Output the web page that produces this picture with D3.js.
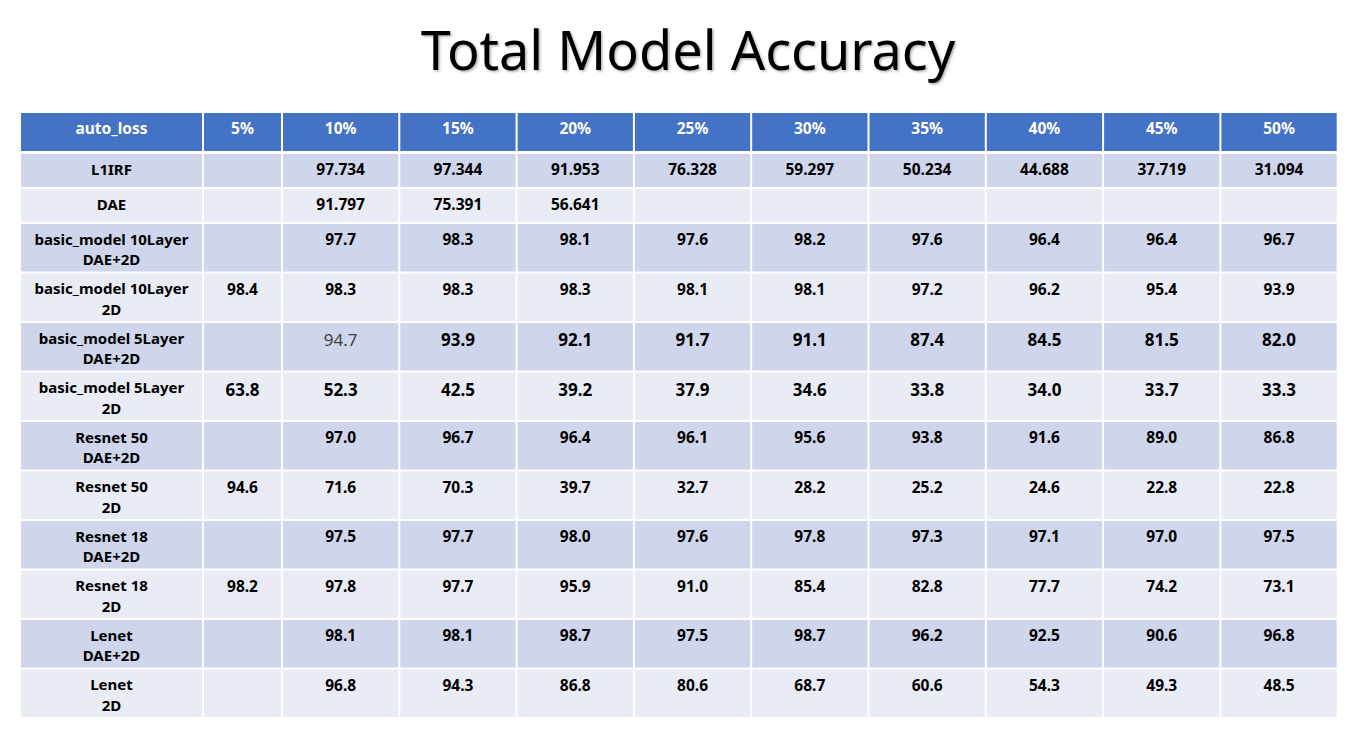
<!DOCTYPE html>
<html>
<head>
<meta charset="utf-8">
<script src="https://cdn.jsdelivr.net/npm/d3@7"></script>
<style>
  body { margin: 0; background: #fff; }
  svg { display: block; }
</style>
</head>
<body>
<div id="chart"></div>
<script>
// table content
const title = 'Total Model Accuracy';
const columns = ['auto_loss', '5%', '10%', '15%', '20%', '25%', '30%', '35%', '40%', '45%', '50%'];
const rowLabels = [
    ['L1IRF'],
    ['DAE'],
    ['basic_model 10Layer', 'DAE+2D'],
    ['basic_model 10Layer', '2D'],
    ['basic_model 5Layer', 'DAE+2D'],
    ['basic_model 5Layer', '2D'],
    ['Resnet 50', 'DAE+2D'],
    ['Resnet 50', '2D'],
    ['Resnet 18', 'DAE+2D'],
    ['Resnet 18', '2D'],
    ['Lenet', 'DAE+2D'],
    ['Lenet', '2D']
];
const decimals = [3, 3, 1, 1, 1, 1, 1, 1, 1, 1, 1, 1];
const l1irf = [null, 97.734, 97.344, 91.953, 76.328, 59.297, 50.234, 44.688, 37.719, 31.094];
const dae = [null, 91.797, 75.391, 56.641, null, null, null, null, null, null];
const basic10Dae = [null, 97.7, 98.3, 98.1, 97.6, 98.2, 97.6, 96.4, 96.4, 96.7];
const basic10_2d = [98.4, 98.3, 98.3, 98.3, 98.1, 98.1, 97.2, 96.2, 95.4, 93.9];
const basic5Dae = [null, 94.7, 93.9, 92.1, 91.7, 91.1, 87.4, 84.5, 81.5, 82.0];
const basic5_2d = [63.8, 52.3, 42.5, 39.2, 37.9, 34.6, 33.8, 34.0, 33.7, 33.3];
const resnet50Dae = [null, 97.0, 96.7, 96.4, 96.1, 95.6, 93.8, 91.6, 89.0, 86.8];
const resnet50_2d = [94.6, 71.6, 70.3, 39.7, 32.7, 28.2, 25.2, 24.6, 22.8, 22.8];
const resnet18Dae = [null, 97.5, 97.7, 98.0, 97.6, 97.8, 97.3, 97.1, 97.0, 97.5];
const resnet18_2d = [98.2, 97.8, 97.7, 95.9, 91.0, 85.4, 82.8, 77.7, 74.2, 73.1];
const lenetDae = [null, 98.1, 98.1, 98.7, 97.5, 98.7, 96.2, 92.5, 90.6, 96.8];
const lenet2d = [null, 96.8, 94.3, 86.8, 80.6, 68.7, 60.6, 54.3, 49.3, 48.5];
const values = [l1irf, dae, basic10Dae, basic10_2d, basic5Dae, basic5_2d,
    resnet50Dae, resnet50_2d, resnet18Dae, resnet18_2d, lenetDae, lenet2d];

const width = 1361, height = 733;
const font = '"Noto Sans", "Open Sans", sans-serif';

const svg = d3.select('#chart').append('svg')
    .attr('width', width)
    .attr('height', height);

// soft shadow under the title, like the slide
const defs = svg.append('defs');
const shadow = defs.append('filter').attr('id', 'shadow')
    .attr('x', '-5%').attr('y', '-20%').attr('width', '110%').attr('height', '140%');
shadow.append('feDropShadow')
    .attr('dx', 1.5).attr('dy', 1.5).attr('stdDeviation', 1.2)
    .attr('flood-color', '#000').attr('flood-opacity', 0.3);

svg.append('text')
    .attr('x', 688)
    .attr('y', 70)
    .attr('text-anchor', 'middle')
    .attr('font-family', font)
    .attr('font-size', 54)
    .attr('fill', '#000')
    .attr('filter', 'url(#shadow)')
    .text(title);

// column widths in relative units (label col wide, 5% col narrow)
const colUnits = columns.map((c, i) => i === 0 ? 183 : i === 1 ? 79 : 117.3);
const colStart = d3.cumsum([0].concat(colUnits));
const x = d3.scaleLinear()
    .domain([0, d3.sum(colUnits)])
    .range([21, 21 + d3.sum(colUnits)]);

// row pitch: one- or two-line rows
const rowPitch = rowLabels.map(l => l.length === 1 ? 35 : 49.5);
const rowStart = d3.cumsum([0].concat(rowPitch));
const y = d3.scaleLinear()
    .domain([0, d3.sum(rowPitch)])
    .range([154, 154 + d3.sum(rowPitch)]);

const gap = 2;

// header
const head = svg.append('g');
head.selectAll('rect')
    .data(columns)
    .enter()
    .append('rect')
    .attr('x', (d, i) => x(colStart[i]))
    .attr('y', 113)
    .attr('width', (d, i) => colUnits[i] - gap)
    .attr('height', 38)
    .attr('fill', '#4472C4');
head.selectAll('text')
    .data(columns)
    .enter()
    .append('text')
    .attr('x', (d, i) => x(colStart[i] + colUnits[i] / 2) - 1)
    .attr('y', 134)
    .attr('text-anchor', 'middle')
    .attr('font-family', font)
    .attr('font-weight', 700)
    .attr('font-size', 15.5)
    .attr('fill', '#fff')
    .text(d => d);

// body rows
const rows = svg.append('g')
    .selectAll('g')
    .data(rowLabels.map((label, r) => ({ label, r, vals: values[r] })))
    .enter()
    .append('g')
    .attr('transform', d => `translate(0,${y(rowStart[d.r])})`);

rows.selectAll('rect')
    .data(d => columns.map((c, i) => ({ i, r: d.r })))
    .enter()
    .append('rect')
    .attr('x', d => x(colStart[d.i]))
    .attr('y', 0)
    .attr('width', d => colUnits[d.i] - gap)
    .attr('height', d => rowPitch[d.r] - gap)
    .attr('fill', d => d.r % 2 === 0 ? '#CFD5EA' : '#E9EBF5');

// label column, one text per line
rows.selectAll('text.label')
    .data(d => d.label)
    .enter()
    .append('text')
    .attr('class', 'label')
    .attr('x', x(colUnits[0] / 2) - 1)
    .attr('y', (d, i) => 20.5 + i * 20.5)
    .attr('text-anchor', 'middle')
    .attr('font-family', font)
    .attr('font-weight', 700)
    .attr('font-size', 15)
    .attr('fill', '#000')
    .text(d => d);

// values; the 5Layer rows were typed larger on the slide
const bigRows = [4, 5];
rows.selectAll('text.val')
    .data(d => d.vals.map((v, j) => ({ v, j, r: d.r })).filter(d => d.v !== null))
    .enter()
    .append('text')
    .attr('class', 'val')
    .attr('x', d => x(colStart[d.j + 1] + colUnits[d.j + 1] / 2) - 1)
    .attr('y', d => bigRows.includes(d.r) ? 23 : 21)
    .attr('text-anchor', 'middle')
    .attr('font-family', font)
    .attr('font-weight', d => (d.r === 4 && d.j === 1) ? 400 : 700)
    .attr('font-size', d => bigRows.includes(d.r) ? 17 : 15.5)
    .attr('fill', d => (d.r === 4 && d.j === 1) ? '#404040' : '#000')
    .text(d => d.v.toFixed(decimals[d.r]));
</script>
</body>
</html>
